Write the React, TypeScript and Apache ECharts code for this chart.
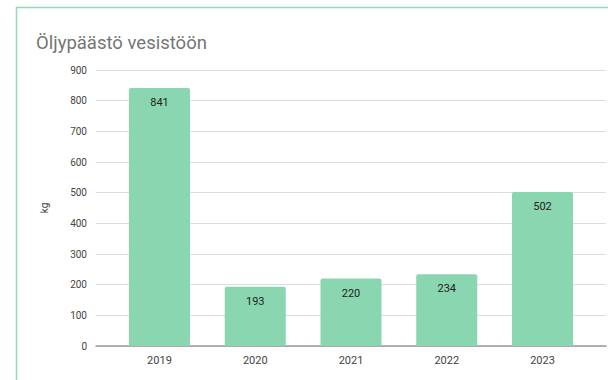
import React, { useEffect, useRef } from "react";
import * as echarts from "echarts";

const categories = ["2019", "2020", "2021", "2022", "2023"];
const values = [841, 193, 220, 234, 502];
const yTicks = [0, 100, 200, 300, 400, 500, 600, 700, 800, 900];
const titleText = "Öljypäästö vesistöön";
const yAxisName = "kg";

export default function App() {
  const ref = useRef<HTMLDivElement>(null);
  useEffect(() => {
    if (!ref.current) return;
    const chart = echarts.init(ref.current, null, { renderer: "svg" });
    const font = "Roboto, Arial, sans-serif";
    chart.setOption({
      animation: false,
      backgroundColor: "#ffffff",
      title: {
        text: titleText,
        left: 31,
        top: 28,
        textStyle: { fontFamily: font, fontSize: 18.5, fontWeight: "normal", color: "#757575" },
      },
      graphic: [
        {
          type: "rect",
          shape: { x: 16.5, y: 7.5, width: 700, height: 500 },
          style: { fill: "none", stroke: "#8fdcb6", lineWidth: 1.5 },
          z: 100,
        },
      ],
      grid: [
        { left: 96, right: 2, top: 70, bottom: 34 },
        { left: 111.6, right: 17.6, top: 70, bottom: 34 },
      ],
      xAxis: [
        {
          type: "category",
          gridIndex: 0,
          data: categories,
          axisLine: { show: true, lineStyle: { color: "#9a9a9a", width: 1.5 } },
          axisTick: { show: false },
          axisLabel: { show: false },
        },
        {
          type: "category",
          gridIndex: 1,
          data: categories,
          axisLine: { show: false },
          axisTick: { show: false },
          axisLabel: { fontFamily: font, fontSize: 11, color: "#444", margin: 9 },
        },
      ],
      yAxis: [
        {
          type: "value",
          gridIndex: 0,
          min: yTicks[0],
          max: yTicks[yTicks.length - 1],
          interval: 100,
          name: yAxisName,
          nameLocation: "middle",
          nameGap: 47,
          nameRotate: 90,
          nameTextStyle: { fontFamily: font, fontSize: 10, color: "#444" },
          axisLine: { show: false },
          axisTick: { show: false },
          axisLabel: { fontFamily: font, fontSize: 10, color: "#444", margin: 9 },
          splitLine: { lineStyle: { color: "#dcdcdc", width: 1 } },
        },
        {
          type: "value",
          gridIndex: 1,
          min: yTicks[0],
          max: yTicks[yTicks.length - 1],
          interval: 100,
          show: false,
          splitLine: { show: false },
        },
      ],
      series: [
        {
          type: "bar",
          xAxisIndex: 1,
          yAxisIndex: 1,
          data: values,
          barWidth: 61,
          itemStyle: { color: "#8ad6b1", borderRadius: [2, 2, 0, 0] },
          label: {
            show: true,
            position: "insideTop",
            distance: 9,
            fontFamily: font,
            fontSize: 11,
            color: "#222",
          },
        },
      ],
    });
    return () => chart.dispose();
  }, []);
  return (
    <div
      ref={ref}
      style={{ position: "fixed", left: 0, top: 0, width: 608, height: 380 }}
    />
  );
}
